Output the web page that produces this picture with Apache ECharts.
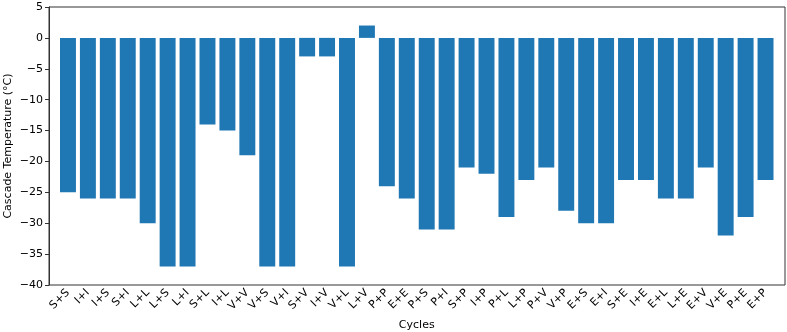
<!DOCTYPE html>
<html>
<head>
<meta charset="utf-8">
<script src="https://cdn.jsdelivr.net/npm/echarts@6/dist/echarts.min.js"></script>
<style>
  html, body { margin: 0; padding: 0; background: #fff; }
  #chart { width: 787px; height: 332px; }
</style>
</head>
<body>
<div id="chart"></div>
<script>
const cycles = ['S+S', 'I+I', 'I+S', 'S+I', 'L+L', 'L+S', 'L+I', 'S+L', 'I+L', 'V+V', 'V+S', 'V+I',
  'S+V', 'I+V', 'V+L', 'L+V', 'P+P', 'E+E', 'P+S', 'P+I', 'S+P', 'I+P', 'P+L', 'L+P',
  'P+V', 'V+P', 'E+S', 'E+I', 'S+E', 'I+E', 'E+L', 'L+E', 'E+V', 'V+E', 'P+E', 'E+P'];
const cascadeTemp = [-25, -26, -26, -26, -30, -37, -37, -14, -15, -19, -37, -37,
  -3, -3, -37, 2, -24, -26, -31, -31, -21, -22, -29, -23,
  -21, -28, -30, -30, -23, -23, -26, -26, -21, -32, -29, -23];

const font = 'DejaVu Sans';
const chart = echarts.init(document.getElementById('chart'));

// grid 0 = frame + y axis, grid 1 = bars (inset like matplotlib's x margins)
let option = {
  animation: false,
  grid: [
    { left: 49, right: 2, top: 7, bottom: 47, outerBoundsMode: 'none', containLabel: false,
      show: true, borderColor: '#333', borderWidth: 1 },
    { left: 58, right: 11.5, top: 7, bottom: 47, outerBoundsMode: 'none', containLabel: false }
  ],
  xAxis: [
    {
      gridIndex: 1,
      type: 'category',
      data: cycles,
      name: 'Cycles',
      nameLocation: 'middle',
      nameGap: 35,
      nameMoveOverlap: false,
      nameTextStyle: { fontFamily: font, fontSize: 11, color: '#000' },
      axisLine: { show: false },
      axisTick: { alignWithLabel: true, length: 4, lineStyle: { color: '#333' } },
      axisLabel: { rotate: 45, fontFamily: font, fontSize: 11, color: '#000', margin: 6, interval: 0 }
    },
    { gridIndex: 0, type: 'value', show: false }
  ],
  yAxis: [
    {
      gridIndex: 0,
      type: 'value',
      min: -40,
      max: 5,
      interval: 5,
      name: 'Cascade Temperature (°C)',
      nameLocation: 'middle',
      nameGap: 35,
      nameMoveOverlap: false,
      nameTextStyle: { fontFamily: font, fontSize: 11, color: '#000' },
      splitLine: { show: false },
      axisLine: { show: true, lineStyle: { color: '#333' } },
      axisTick: { show: true, length: 4, lineStyle: { color: '#333' } },
      axisLabel: {
        fontFamily: font, fontSize: 11, color: '#000', margin: 6,
        formatter: v => String(v).replace('-', '\u2212')
      }
    },
    { gridIndex: 1, type: 'value', min: -40, max: 5, interval: 5, show: false, splitLine: { show: false } }
  ],
  series: [{
    type: 'bar',
    xAxisIndex: 0,
    yAxisIndex: 1,
    data: cascadeTemp,
    barWidth: '80%',
    itemStyle: { color: '#1f77b4' }
  }]
};

chart.setOption(option);
</script>
</body>
</html>
